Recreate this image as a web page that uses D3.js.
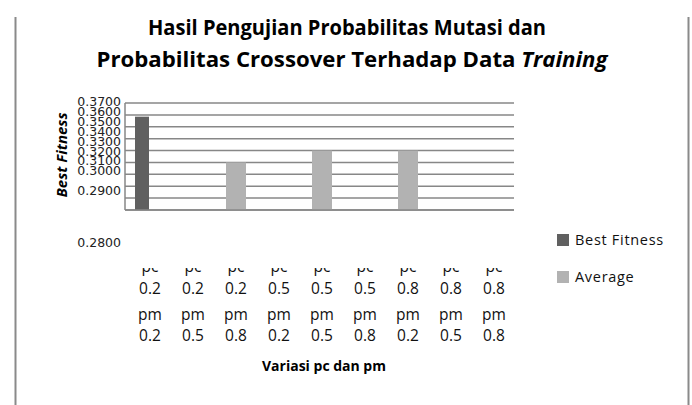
<!DOCTYPE html>
<html>
<head>
<meta charset="utf-8">
<script src="https://cdn.jsdelivr.net/npm/d3@7"></script>
<style>
  body { margin: 0; background: #fff; }
  svg { display: block; }
</style>
</head>
<body>
<svg id="chart"></svg>
<script>
// data
const pcValues = ["0.2", "0.2", "0.2", "0.5", "0.5", "0.5", "0.8", "0.8", "0.8"];
const pmValues = ["0.2", "0.5", "0.8", "0.2", "0.5", "0.8", "0.2", "0.5", "0.8"];
const categories = pcValues.map((pc, i) => "pc " + pc + " pm " + pmValues[i]);
const bestFitness = [0.3585, null, null, null, null, null, null, null, null];
const average = [null, null, 0.32, null, 0.33, null, 0.33, null, null];
const yTicks = [0.37, 0.36, 0.35, 0.34, 0.33, 0.32, 0.31, 0.30, 0.29, 0.28];
const seriesNames = ["Best Fitness", "Average"];

const width = 692, height = 405;
const svg = d3.select("#chart").attr("width", width).attr("height", height);

const plot = { left: 125, right: 514, top: 103, bottom: 210 };
const darkColor = "#606060", lightColor = "#b2b2b2", gridColor = "#878787";

const x = d3.scaleBand().domain(categories).range([128.5, 515.5]);
const y = d3.scaleLinear().domain([0.28, 0.37]).range([plot.bottom, plot.top]);
// the tick labels of the original sit off the grid, squeezed together
const yLabel = d3.scaleLinear().domain([0.37, 0.30, 0.29, 0.28]).range([101.5, 171, 190.5, 243]);

// frame lines left and right
[15.5, 688.5].forEach(fx => {
    svg.append("line")
        .attr("x1", fx).attr("x2", fx)
        .attr("y1", 17).attr("y2", height)
        .attr("stroke", "#8a8a8a").attr("stroke-width", 2);
});

// title
const title = svg.append("g")
    .attr("font-family", "'Open Sans', sans-serif")
    .attr("font-weight", "bold")
    .attr("font-size", 21)
    .attr("fill", "#000")
    .attr("text-anchor", "middle");
title.append("text")
    .attr("x", 347).attr("y", 35)
    .attr("textLength", 398).attr("lengthAdjust", "spacingAndGlyphs")
    .text("Hasil Pengujian  Probabilitas  Mutasi  dan");
const t2 = title.append("text")
    .attr("x", 352).attr("y", 67)
    .attr("textLength", 511).attr("lengthAdjust", "spacingAndGlyphs");
t2.append("tspan").text("Probabilitas  Crossover  Terhadap  Data ");
t2.append("tspan").attr("font-style", "italic").text("Training");

// gridlines
svg.append("g")
    .selectAll("line")
    .data(y.ticks(9))
    .join("line")
    .attr("x1", plot.left).attr("x2", plot.right)
    .attr("y1", d => y(d)).attr("y2", d => y(d))
    .attr("stroke", gridColor).attr("stroke-width", 1.5);

// left axis line
svg.append("line")
    .attr("x1", plot.left).attr("x2", plot.left)
    .attr("y1", plot.top).attr("y2", plot.bottom)
    .attr("stroke", gridColor).attr("stroke-width", 1.5);

// y tick labels
svg.append("g")
    .attr("font-family", "'DejaVu Sans', sans-serif")
    .attr("font-size", 12.5)
    .attr("fill", "#222")
    .attr("text-anchor", "end")
    .selectAll("text")
    .data(yTicks)
    .join("text")
    .attr("x", 121)
    .attr("y", d => yLabel(d))
    .attr("dy", "0.35em")
    .text(d => d.toFixed(4));

// bars
const barSpec = [
    { values: bestFitness, color: darkColor, offset: 6.5, w: 14 },
    { values: average, color: lightColor, offset: 11.5, w: 20 }
];
barSpec.forEach(s => {
    svg.append("g")
        .selectAll("rect")
        .data(categories.map((c, i) => ({ c, v: s.values[i] })).filter(d => d.v != null))
        .join("rect")
        .attr("x", d => x(d.c) + s.offset)
        .attr("width", s.w)
        .attr("y", d => y(d.v))
        .attr("height", d => plot.bottom - y(d.v))
        .attr("fill", s.color);
});

// bottom axis line
svg.append("line")
    .attr("x1", plot.left).attr("x2", plot.right)
    .attr("y1", plot.bottom).attr("y2", plot.bottom)
    .attr("stroke", gridColor).attr("stroke-width", 1.5);

// y axis title
svg.append("text")
    .attr("transform", "translate(67,155) rotate(-90)")
    .attr("text-anchor", "middle")
    .attr("font-family", "'Open Sans', sans-serif")
    .attr("font-weight", "bold")
    .attr("font-style", "italic")
    .attr("font-size", 15)
    .text("Best Fitness");

// x tick labels (top line clipped as in the original)
svg.append("clipPath").attr("id", "xclip")
    .append("rect").attr("x", 100).attr("y", 268).attr("width", 450).attr("height", 100);
const xl = svg.append("g")
    .attr("clip-path", "url(#xclip)")
    .attr("font-family", "'Open Sans', sans-serif")
    .attr("font-size", 15.5)
    .attr("fill", "#111")
    .attr("text-anchor", "middle");
categories.forEach((c, i) => {
    const cx = x(c) + x.bandwidth() / 2;
    const lines = [["pc", 272], [pcValues[i], 294], ["pm", 320], [pmValues[i], 341]];
    lines.forEach(([txt, ly]) => {
        xl.append("text").attr("x", cx).attr("y", ly).text(txt);
    });
});

// x axis title
svg.append("text")
    .attr("x", 324).attr("y", 371)
    .attr("text-anchor", "middle")
    .attr("font-family", "'Open Sans', sans-serif")
    .attr("font-weight", "bold")
    .attr("font-size", 14)
    .text("Variasi  pc dan  pm");

// legend
const legend = svg.append("g")
    .attr("font-family", "'Open Sans', sans-serif")
    .attr("font-size", 14.5)
    .attr("fill", "#111");
seriesNames.forEach((name, i) => {
    const ly = 240 + i * 37;
    legend.append("rect")
        .attr("x", 557).attr("y", ly - 6)
        .attr("width", 12).attr("height", 12)
        .attr("fill", i === 0 ? darkColor : lightColor);
    legend.append("text")
        .attr("x", 575).attr("y", ly)
        .attr("dy", "0.35em")
        .attr("letter-spacing", 0.7)
        .text(name);
});
</script>
</body>
</html>
